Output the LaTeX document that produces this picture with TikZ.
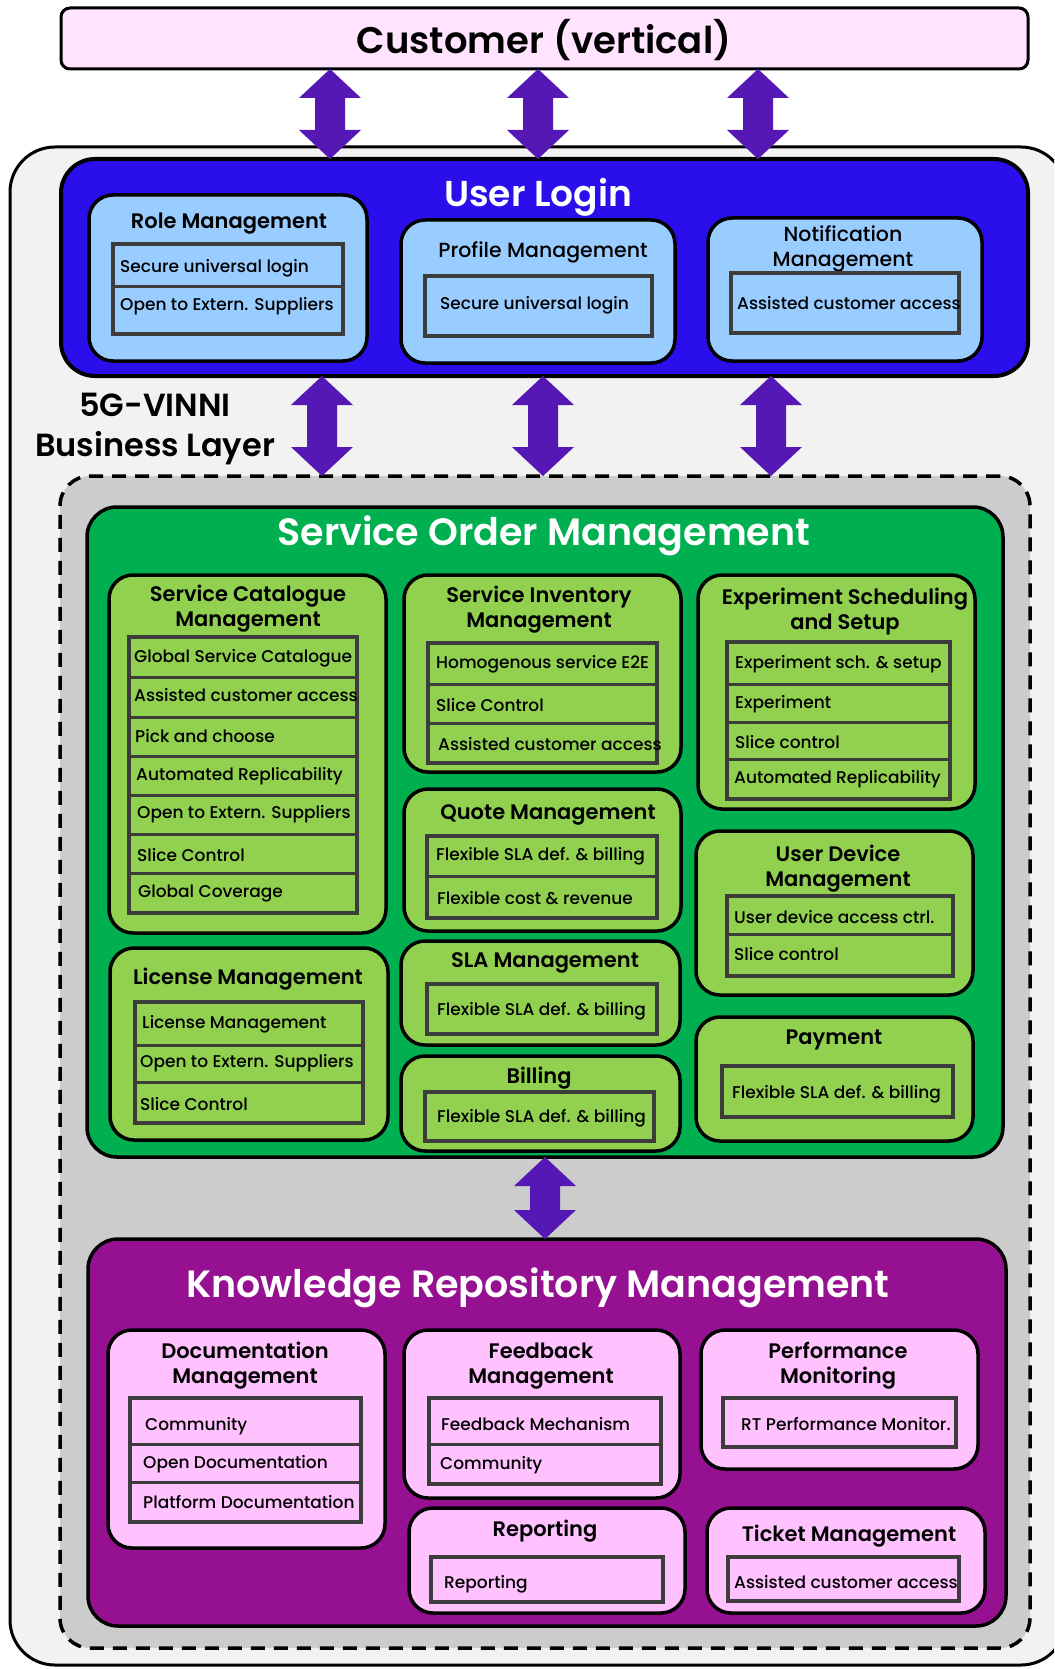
\documentclass[tikz,border=0pt]{standalone}
\usepackage{fontspec}
\setmainfont{Poppins}[BoldFont={Poppins SemiBold}]
\newfontfamily\itemfont{Poppins Medium}
\usetikzlibrary{calc}
\definecolor{custpink}{HTML}{FFE3FF}
\definecolor{layergray}{HTML}{F2F2F2}
\definecolor{loginblue}{HTML}{2A0EEC}
\definecolor{lightblue}{HTML}{99CCFF}
\definecolor{regiongray}{HTML}{CCCCCC}
\definecolor{somgreen}{HTML}{00B050}
\definecolor{lightgreen}{HTML}{92D050}
\definecolor{krmpurple}{HTML}{961192}
\definecolor{pinkbox}{HTML}{FFC2FF}
\definecolor{arrowc}{HTML}{5518B4}
\definecolor{listgray}{HTML}{3C3C3C}
\tikzset{
  box/.style={draw=black, line width=3.5pt, rounded corners=24pt, inner sep=0pt, outer sep=0pt},
  custbox/.style={box, fill=custpink, rounded corners=9pt, line width=3pt},
  layerbox/.style={box, fill=layergray, rounded corners=45pt, line width=3pt},
  loginbox/.style={box, fill=loginblue, rounded corners=34pt, line width=4pt},
  bluebox/.style={box, fill=lightblue},
  regionbox/.style={box, fill=regiongray, rounded corners=30pt, dash pattern=on 14pt off 9pt},
  sombox/.style={box, fill=somgreen, rounded corners=30pt},
  greenbox/.style={box, fill=lightgreen},
  krmbox/.style={box, fill=krmpurple, rounded corners=30pt},
  pinkb/.style={box, fill=pinkbox},
  lst/.style={draw=listgray, line width=3.5pt, inner sep=0pt, outer sep=0pt},
  divl/.style={draw=listgray, line width=3pt},
  ttl/.style={font=\bfseries\fontsize{21}{25}\selectfont, align=center, text=black, inner sep=0pt},
  ttlm/.style={font=\itemfont\fontsize{20.5}{25}\selectfont, align=center, text=black, inner sep=0pt},
  itm/.style={font=\itemfont\fontsize{17}{20}\selectfont, anchor=west, text=black, inner sep=0pt},
  big/.style={font=\bfseries\fontsize{38}{40}\selectfont, text=white, inner sep=0pt},
}
\newcommand\bx[6]{\node[#1,anchor=north west,minimum width={#5-#3},minimum height={#6-#4}] (#2) at (#3,#4) {};}
\newcommand\dv[2]{\draw[divl] (#1.west |- 0,#2) -- (#1.east |- 0,#2);}
\newcommand\dbl[3]{%
  \fill[arrowc] let \p1=(#2.south -| #1), \p2=(#3.north -| #1) in
   (\x1,\y1) -- (\x1+31pt,\y1-29pt) -- (\x1+15pt,\y1-29pt) -- (\x1+15pt,\y2+29pt)
   -- (\x1+31pt,\y2+29pt) -- (\x1,\y2) -- (\x1-31pt,\y2+29pt) -- (\x1-15pt,\y2+29pt)
   -- (\x1-15pt,\y1-29pt) -- (\x1-31pt,\y1-29pt) -- cycle;}
\begin{document}
\begin{tikzpicture}[x=1pt,y=-1pt]
\useasboundingbox (0,0) rectangle (1054,1669);
\clip (0,0) rectangle (1054,1669);
% customer
\bx{custbox}{cust}{61}{8}{1028}{69}
\node[font=\bfseries\fontsize{37}{40}\selectfont, text=black] (custt) at (544,40) {Customer (vertical)};
% business layer
\bx{layerbox}{layer}{10}{147}{1066}{1665}
% user login
\bx{loginbox}{ul}{61}{159}{1028}{376}
\node[big, font=\bfseries\fontsize{36}{40}\selectfont] (ult) at (538,197) {User Login};
\bx{bluebox}{role}{89}{195}{367}{361}
\node[ttl] (rolet) at (229,224) {Role Management};
\bx{lst}{rolel}{113}{244}{343}{334}
\dv{rolel}{287}
\node[itm] (role1) at (120,268) {Secure universal login};
\node[itm] (role2) at (120,306) {Open to Extern. Suppliers};
\bx{bluebox}{prof}{401}{220}{675}{363}
\node[ttlm] (proft) at (543,252) {Profile Management};
\bx{lst}{profl}{425}{276}{652}{336}
\node[itm] (prof1) at (440,305) {Secure universal login};
\bx{bluebox}{notif}{708}{218}{982}{361}
\node[ttlm] (notift) at (843,249) {Notification\\Management};
\bx{lst}{notifl}{731}{273}{959}{333}
\node[itm] (notif1) at (737,303) {Assisted customer access};
% arrows customer <-> login
\coordinate (xa) at (330,0);
\coordinate (xb) at (538,0);
\coordinate (xc) at (758,0);
\dbl{xa}{cust}{ul}
\dbl{xb}{cust}{ul}
\dbl{xc}{cust}{ul}
% label
\node[font=\bfseries\fontsize{32}{40}\selectfont, align=center, text=black] (bl) at (155,429) {5G-VINNI\\Business Layer};
% dashed region
\bx{regionbox}{reg}{60}{476}{1030}{1648}
\coordinate (xd) at (322,0);
\coordinate (xe) at (543,0);
\coordinate (xf) at (771,0);
\dbl{xd}{ul}{reg}
\dbl{xe}{ul}{reg}
\dbl{xf}{ul}{reg}
% service order management
\bx{sombox}{som}{87}{507}{1003}{1157}
\node[big] (somt) at (544,536) {Service Order Management};
% service catalogue
\bx{greenbox}{scm}{109}{575}{386}{933}
\node[ttl] (scmt) at (248,609) {Service Catalogue\\Management};
\bx{lst}{scml}{129}{637}{357}{913}
\dv{scml}{677}\dv{scml}{717}\dv{scml}{756}\dv{scml}{795}\dv{scml}{834}\dv{scml}{873}
\node[itm] (scm1) at (134,658) {Global Service Catalogue};
\node[itm] (scm2) at (134,695) {Assisted customer access};
\node[itm] (scm3) at (135,736) {Pick and choose};
\node[itm] (scm4) at (136,776) {Automated Replicability};
\node[itm] (scm5) at (137,814) {Open to Extern. Suppliers};
\node[itm] (scm6) at (137,855) {Slice Control};
\node[itm] (scm7) at (138,894) {Global Coverage};
% service inventory
\bx{greenbox}{sim}{404}{575}{681}{772}
\node[ttl] (simt) at (539,610) {Service Inventory\\Management};
\bx{lst}{siml}{428}{643}{657}{763}
\dv{siml}{684}\dv{siml}{723}
\node[itm] (sim1) at (436,664) {Homogenous service E2E};
\node[itm] (sim2) at (436,705) {Slice Control};
\node[itm] (sim3) at (438,744) {Assisted customer access};
% experiment
\bx{greenbox}{exp}{698}{575}{975}{809}
\node[ttl] (expt) at (845,612) {Experiment Scheduling\\and Setup};
\bx{lst}{expl}{727}{642}{950}{799}
\dv{expl}{684}\dv{expl}{722}\dv{expl}{759}
\node[itm] (exp1) at (735,664) {Experiment sch. \& setup};
\node[itm] (exp2) at (735,704) {Experiment};
\node[itm] (exp3) at (735,742) {Slice control};
\node[itm] (exp4) at (734,779) {Automated Replicability};
% quote
\bx{greenbox}{quote}{404}{789}{681}{931}
\node[ttl] (quotet) at (548,815) {Quote Management};
\bx{lst}{quotel}{427}{836}{657}{918}
\dv{quotel}{876}
\node[itm] (quote1) at (436,856) {Flexible SLA def. \& billing};
\node[itm] (quote2) at (437,898) {Flexible cost \& revenue};
% sla
\bx{greenbox}{sla}{401}{941}{680}{1045}
\node[ttl] (slat) at (545,963) {SLA Management};
\bx{lst}{slal}{427}{984}{657}{1034}
\node[itm] (sla1) at (437,1011) {Flexible SLA def. \& billing};
% billing
\bx{greenbox}{bill}{401}{1056}{680}{1151}
\node[ttl] (billt) at (539,1078) {Billing};
\bx{lst}{billl}{425}{1092}{654}{1141}
\node[itm] (bill1) at (437,1118) {Flexible SLA def. \& billing};
% user device
\bx{greenbox}{udm}{696}{831}{973}{995}
\node[ttl] (udmt) at (838,869) {User Device\\Management};
\bx{lst}{udml}{727}{896}{953}{976}
\dv{udml}{934}
\node[itm] (udm1) at (734,917) {User device access ctrl.};
\node[itm] (udm2) at (734,954) {Slice control};
% payment
\bx{greenbox}{pay}{696}{1017}{973}{1141}
\node[ttl] (payt) at (834,1040) {Payment};
\bx{lst}{payl}{722}{1066}{953}{1117}
\node[itm] (pay1) at (732,1094) {Flexible SLA def. \& billing};
% license
\bx{greenbox}{lic}{110}{948}{388}{1140}
\node[ttl] (lict) at (248,979) {License Management};
\bx{lst}{licl}{135}{1002}{363}{1123}
\dv{licl}{1045}\dv{licl}{1082}
\node[itm] (lic1) at (142,1024) {License Management};
\node[itm] (lic2) at (140,1063) {Open to Extern. Suppliers};
\node[itm] (lic3) at (140,1104) {Slice Control};
% arrow som <-> krm
\coordinate (xg) at (545,0);
% knowledge repository
\bx{krmbox}{krm}{88}{1239}{1006}{1626}
\dbl{xg}{som}{krm}
\node[big] (krmt) at (538,1288) {Knowledge Repository Management};
\bx{pinkb}{doc}{108}{1330}{385}{1548}
\node[ttl] (doct) at (245,1366) {Documentation\\Management};
\bx{lst}{docl}{130}{1398}{361}{1522}
\dv{docl}{1444}\dv{docl}{1482}
\node[itm] (doc1) at (145,1426) {Community};
\node[itm] (doc2) at (143,1464) {Open Documentation};
\node[itm] (doc3) at (143,1502) {Platform Documentation};
\bx{pinkb}{fb}{404}{1330}{680}{1498}
\node[ttl] (fbt) at (541,1366) {Feedback\\Management};
\bx{lst}{fbl}{429}{1398}{661}{1484}
\dv{fbl}{1444}
\node[itm] (fb1) at (441,1424) {Feedback Mechanism};
\node[itm] (fb2) at (440,1465) {Community};
\bx{pinkb}{perf}{701}{1330}{978}{1469}
\node[ttl] (perft) at (838,1366) {Performance\\Monitoring};
\bx{lst}{perfl}{723}{1398}{956}{1447}
\node[itm] (perf1) at (741,1424) {RT Performance Monitor.};
\bx{pinkb}{rep}{409}{1508}{685}{1613}
\node[ttl] (rept) at (545,1531) {Reporting};
\bx{lst}{repl}{431}{1557}{663}{1602}
\node[itm] (rep1) at (444,1584) {Reporting};
\bx{pinkb}{tick}{707}{1508}{985}{1613}
\node[ttl] (tickt) at (849,1536) {Ticket Management};
\bx{lst}{tickl}{728}{1557}{959}{1601}
\node[itm] (tick1) at (734,1582) {Assisted customer access};
\end{tikzpicture}
\end{document}
